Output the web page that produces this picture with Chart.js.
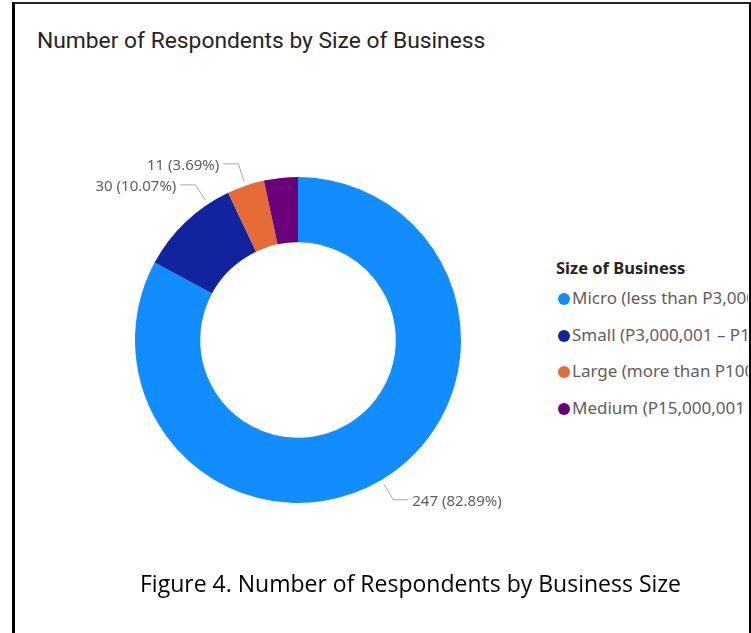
<!DOCTYPE html>
<html>
<head>
<meta charset="utf-8">
<script src="https://cdn.jsdelivr.net/npm/chart.js@4"></script>
<style>
  html, body { margin: 0; padding: 0; background: #fff; }
  body { width: 751px; height: 633px; position: relative; overflow: hidden; }
  .frame {
    position: absolute; left: 12px; top: 2px; width: 734px; height: 660px;
    border-left: 3px solid #000; border-right: 3px solid #000; border-top: 2px solid #222;
    overflow: hidden;
  }
  .title {
    position: absolute; left: 37px; top: 27px;
    font-family: Roboto, "DejaVu Sans", sans-serif; font-size: 22.8px; color: #252423;
  }
  .chart-box { position: absolute; left: 48px; top: 90px; width: 500px; height: 500px; }
  .legend {
    position: absolute; left: 549px; top: 256px; width: 199px; overflow: hidden;
    font-family: "Noto Sans", "Open Sans", sans-serif; color: #605E5C; white-space: nowrap;
  }
  .legend h4 { margin: 0 0 5px 7px; font-size: 16.5px; font-weight: bold; color: #252423; }
  .legend .item { height: 36.5px; line-height: 28px; font-size: 17px; display: flex; align-items: flex-start; }
  .legend .dot { width: 12px; height: 12px; border-radius: 50%; margin: 9px 2px 0 9px; flex: none; }
  .caption {
    position: absolute; left: 140px; top: 567px;
    font-family: "Open Sans", sans-serif; font-size: 23px; color: #000; white-space: nowrap;
  }
</style>
</head>
<body>
<div class="frame"></div>
<div class="title">Number of Respondents by Size of Business</div>
<div class="chart-box"><canvas id="sizeChart"></canvas></div>
<div class="legend" id="legend"><h4>Size of Business</h4></div>
<div class="caption">Figure 4. Number of Respondents by Business Size</div>

<script>
// business size groups, in slice order (clockwise from the top)
const sizeLabels = [
  "Micro (less than P3,000,000)",
  "Small (P3,000,001 – P15,000,000)",
  "Large (more than P100,000,000)",
  "Medium (P15,000,001 – P100,000,000)"
];
const respondents = [247, 30, 11, 10];
const sliceColors = ["#118DFF", "#12239E", "#E66C37", "#6B007B"];

const total = respondents.reduce((a, b) => a + b, 0);

// legend on the right, cut off by the frame like in the report
const legendEl = document.getElementById("legend");
sizeLabels.forEach((name, i) => {
  const row = document.createElement("div");
  row.className = "item";
  row.innerHTML = '<span class="dot" style="background:' + sliceColors[i] + '"></span><span>' + name + "</span>";
  legendEl.appendChild(row);
});

// outside labels with a bent leader line, Power BI style
const leaderLabels = {
  id: "leaderLabels",
  afterDatasetsDraw(chart, args, opts) {
    const ctx = chart.ctx;
    const meta = chart.getDatasetMeta(0);
    const values = chart.data.datasets[0].data;
    ctx.save();
    ctx.font = "15px 'Noto Sans', 'Open Sans', sans-serif";
    ctx.textBaseline = "middle";
    meta.data.forEach((arc, i) => {
      if (opts.hidden.includes(i)) return;
      const p = arc.getProps(["x", "y", "startAngle", "endAngle", "outerRadius"], true);
      const ang = (p.startAngle + p.endAngle) / 2 + (opts.nudge[i] || 0) * Math.PI / 180;
      const cos = Math.cos(ang), sin = Math.sin(ang);
      const x1 = p.x + cos * (p.outerRadius + 5), y1 = p.y + sin * (p.outerRadius + 5);
      const x2 = p.x + cos * (p.outerRadius + 23), y2 = p.y + sin * (p.outerRadius + 23);
      const right = cos >= 0;
      const x3 = x2 + (right ? 15 : -15);
      ctx.strokeStyle = "#A9A9A9";
      ctx.lineWidth = 1;
      ctx.beginPath();
      ctx.moveTo(x1, y1);
      ctx.lineTo(x2, y2);
      ctx.lineTo(x3, y2);
      ctx.stroke();
      const pct = (values[i] / total * 100).toFixed(2);
      ctx.fillStyle = "#605E5C";
      ctx.textAlign = right ? "left" : "right";
      ctx.fillText(values[i] + " (" + pct + "%)", x3 + (right ? 4 : -4), y2 + 2);
    });
    ctx.restore();
  }
};

new Chart(document.getElementById("sizeChart"), {
  type: "doughnut",
  data: {
    labels: sizeLabels,
    datasets: [{
      data: respondents,
      backgroundColor: sliceColors,
      borderWidth: 0,
      hoverOffset: 0
    }]
  },
  options: {
    responsive: true,
    maintainAspectRatio: false,
    animation: false,
    cutout: "60%",
    layout: { padding: 87 },
    plugins: {
      legend: { display: false },
      tooltip: { enabled: false },
      leaderLabels: { hidden: [3], nudge: [0, 10, 0, 0] }
    }
  },
  plugins: [leaderLabels]
});
</script>
</body>
</html>
